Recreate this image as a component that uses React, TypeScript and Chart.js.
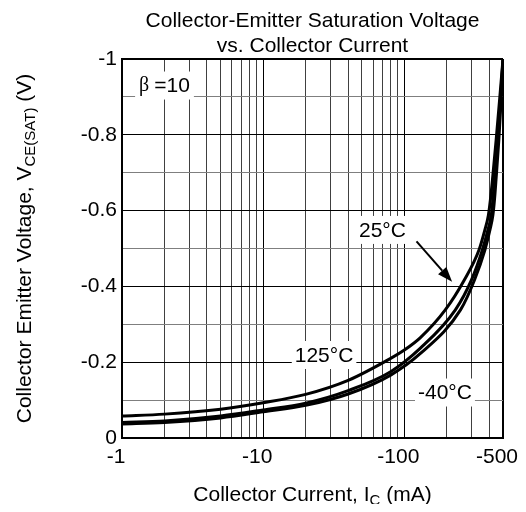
import { useEffect, useRef } from "react";
import { Chart, registerables } from "chart.js";

Chart.register(...registerables);

const FONT = "'Liberation Sans', Arial, Helvetica, sans-serif";
const SERIF = "'Liberation Serif', 'DejaVu Serif', serif";

// ---- text ----
const titleLines = ["Collector-Emitter Saturation Voltage", "vs. Collector Current"];
const xTitleParts = ["Collector Current, I", "C", " (mA)"];
const yTitleParts = ["Collector Emitter Voltage, V", "CE(SAT)", " (V)"];

// ---- axes (collector current magnitudes in mA; shown with a minus sign) ----
const xGridValues = [1, 2, 3, 4, 5, 6, 7, 8, 9, 10, 20, 30, 40, 50, 60, 70, 80, 90, 100, 200, 300, 400, 500];
const xLabelValues = [1, 10, 100, 500];
const xTickLabels = ["-1", "-10", "-100", "-500"];
const yLabelValues = [-1, -0.8, -0.6, -0.4, -0.2, 0];
const yTickLabels = ["-1", "-0.8", "-0.6", "-0.4", "-0.2", "0"];

// ---- series: |Ic| (mA) and VCE(sat) (V) ----
const ic125 = [1, 2, 5, 10, 20, 40, 80, 100, 130, 195, 266, 338, 372, 394, 407, 421, 447, 473, 500];
const vce125 = [-0.058, -0.063, -0.076, -0.093, -0.115, -0.152, -0.21, -0.232, -0.265, -0.338, -0.417, -0.496, -0.549, -0.588, -0.628, -0.681, -0.786, -0.892, -1.0];

const ic25 = [1, 2, 5, 10, 20, 40, 80, 130, 230, 299, 357, 391, 413, 424, 436, 459, 480, 500];
const vce25 = [-0.041, -0.045, -0.058, -0.074, -0.092, -0.125, -0.175, -0.237, -0.338, -0.417, -0.496, -0.549, -0.588, -0.628, -0.681, -0.786, -0.892, -1.0];

const icM40 = [1, 2, 5, 10, 20, 40, 80, 130, 250, 314, 372, 404, 424, 435, 446, 467, 485, 500];
const vceM40 = [-0.037, -0.041, -0.053, -0.069, -0.086, -0.116, -0.166, -0.223, -0.338, -0.417, -0.496, -0.549, -0.588, -0.628, -0.681, -0.786, -0.892, -1.0];

// ---- annotations (data coordinates) ----
const betaSymbol = "\u03B2";
const betaText = "=10";
const betaAt = [2, -0.93];
const curveLabels = ["25\u00B0C", "125\u00B0C", "-40\u00B0C"];
const curveLabelIc = [70, 27, 194];
const curveLabelV = [-0.549, -0.219, -0.12];
const arrowFrom = [122, -0.519];
const arrowTo = [218, -0.412];

const toPoints = (xs: number[], ys: number[]) => xs.map((x, i) => ({ x, y: ys[i] }));

type Run = { text: string; size: number; dy: number };

function drawRuns(ctx: CanvasRenderingContext2D, runs: Run[], cx: number, baseY: number) {
  let total = 0;
  const widths: number[] = [];
  for (const r of runs) {
    ctx.font = `${r.size}px ${FONT}`;
    const w = ctx.measureText(r.text).width;
    widths.push(w);
    total += w;
  }
  let x = cx - total / 2;
  ctx.textAlign = "left";
  ctx.textBaseline = "alphabetic";
  runs.forEach((r, i) => {
    ctx.font = `${r.size}px ${FONT}`;
    ctx.fillText(r.text, x, baseY + r.dy);
    x += widths[i];
  });
}

const annotPlugin = {
  id: "annot",
  beforeDatasetsDraw(chart: any) {
    const { ctx, scales } = chart;
    const xs = scales.x;
    const ys = scales.y;
    ctx.save();
    ctx.font = `21px ${FONT}`;
    curveLabels.forEach((t, i) => {
      const cx = xs.getPixelForValue(curveLabelIc[i]);
      const cy = ys.getPixelForValue(curveLabelV[i]);
      const w = ctx.measureText(t).width + 6;
      const h = 28;
      ctx.fillStyle = "#fff";
      ctx.fillRect(cx - w / 2, cy - h / 2, w, h);
      ctx.fillStyle = "#000";
      ctx.textAlign = "center";
      ctx.textBaseline = "middle";
      ctx.fillText(t, cx, cy + 1);
    });
    const bx = xs.getPixelForValue(betaAt[0]);
    const by = ys.getPixelForValue(betaAt[1]);
    ctx.font = `20px ${SERIF}`;
    const w1 = ctx.measureText(betaSymbol).width;
    ctx.font = `21px ${FONT}`;
    const w2 = ctx.measureText(betaText).width;
    const gap = 5;
    const total = w1 + gap + w2;
    ctx.fillStyle = "#fff";
    ctx.fillRect(bx - total / 2 - 4, by - 14, total + 8, 28);
    ctx.fillStyle = "#000";
    ctx.textAlign = "left";
    ctx.textBaseline = "middle";
    ctx.font = `20px ${SERIF}`;
    ctx.fillText(betaSymbol, bx - total / 2, by);
    ctx.font = `21px ${FONT}`;
    ctx.fillText(betaText, bx - total / 2 + w1 + gap, by + 1);
    ctx.restore();
  },
  afterDatasetsDraw(chart: any) {
    const { ctx, scales } = chart;
    const x0 = scales.x.getPixelForValue(arrowFrom[0]);
    const y0 = scales.y.getPixelForValue(arrowFrom[1]);
    const x1 = scales.x.getPixelForValue(arrowTo[0]);
    const y1 = scales.y.getPixelForValue(arrowTo[1]);
    const ang = Math.atan2(y1 - y0, x1 - x0);
    const head = 15;
    const half = 5.5;
    ctx.save();
    ctx.strokeStyle = "#000";
    ctx.fillStyle = "#000";
    ctx.lineWidth = 2;
    ctx.beginPath();
    ctx.moveTo(x0, y0);
    ctx.lineTo(x1 - Math.cos(ang) * head, y1 - Math.sin(ang) * head);
    ctx.stroke();
    const bxp = x1 - Math.cos(ang) * head;
    const byp = y1 - Math.sin(ang) * head;
    ctx.beginPath();
    ctx.moveTo(x1, y1);
    ctx.lineTo(bxp + Math.sin(ang) * half, byp - Math.cos(ang) * half);
    ctx.lineTo(bxp - Math.sin(ang) * half, byp + Math.cos(ang) * half);
    ctx.closePath();
    ctx.fill();
    ctx.restore();
  },
  afterDraw(chart: any) {
    const { ctx, chartArea } = chart;
    const cx = (chartArea.left + chartArea.right) / 2;
    const cy = (chartArea.top + chartArea.bottom) / 2;
    ctx.save();
    ctx.fillStyle = "#000";
    drawRuns(ctx, [{ text: titleLines[0], size: 21, dy: 0 }], cx, 18.5);
    drawRuns(ctx, [{ text: titleLines[1], size: 21, dy: 0 }], cx, 43.5);
    drawRuns(
      ctx,
      [
        { text: xTitleParts[0], size: 21, dy: 0 },
        { text: xTitleParts[1], size: 15, dy: 4 },
        { text: xTitleParts[2], size: 21, dy: 0 },
      ],
      cx,
      493
    );
    ctx.translate(23, cy);
    ctx.rotate(-Math.PI / 2);
    drawRuns(
      ctx,
      [
        { text: yTitleParts[0], size: 21, dy: 0 },
        { text: yTitleParts[1], size: 15, dy: 4 },
        { text: yTitleParts[2], size: 21, dy: 0 },
      ],
      0,
      0
    );
    ctx.restore();
  },
};

export default function App() {
  const ref = useRef<HTMLCanvasElement | null>(null);
  useEffect(() => {
    if (!ref.current) return;
    Chart.defaults.font.family = FONT;
    Chart.defaults.font.size = 21;
    Chart.defaults.color = "#000";
    const lineStyle = {
      borderColor: "#000",
      borderWidth: 3,
      pointRadius: 0,
      fill: false,
      cubicInterpolationMode: "monotone" as const,
    };
    const chart = new Chart(ref.current, {
      type: "line",
      data: {
        datasets: [
          { label: "125°C", data: toPoints(ic125, vce125), ...lineStyle },
          { label: "25°C", data: toPoints(ic25, vce25), ...lineStyle },
          { label: "-40°C", data: toPoints(icM40, vceM40), ...lineStyle },
        ],
      },
      options: {
        animation: false,
        responsive: false,
        layout: { padding: { top: 51, right: 15, left: 0, bottom: 0 } },
        plugins: {
          legend: { display: false },
          tooltip: { enabled: false },
          title: { display: false },
        },
        scales: {
          x: {
            type: "logarithmic",
            min: 1,
            max: 500,
            afterBuildTicks: (s: any) => {
              s.ticks = xGridValues.map((v) => ({ value: v }));
            },
            afterFit: (s: any) => {
              s.height = 66;
              s.paddingLeft = 0;
              s.paddingRight = 0;
            },
            ticks: {
              autoSkip: false,
              maxRotation: 0,
              minRotation: 0,
              padding: 7,
              labelOffset: -6,
              font: { size: 21 },
              callback: (v: any) => {
                const i = xLabelValues.indexOf(Number(v));
                return i >= 0 ? xTickLabels[i] : "";
              },
            },
            grid: {
              drawTicks: false,
              color: (c: any) => {
                const v = c.tick?.value;
                return v === 1 || v === 10 || v === 100 || v === 500 ? "#000" : "#404040";
              },
              lineWidth: (c: any) => (c.tick?.value === 500 ? 2 : 1),
            },
            border: { color: "#000", width: 2 },
          },
          y: {
            type: "linear",
            min: -1,
            max: 0,
            reverse: true,
            afterFit: (s: any) => {
              s.width = 114;
              s.paddingTop = 0;
              s.paddingBottom = 0;
            },
            ticks: {
              stepSize: 0.1,
              padding: 5,
              font: { size: 21 },
              callback: (v: any) => {
                const t = Math.round(Number(v) * 10);
                const i = yLabelValues.findIndex((u) => Math.round(u * 10) === t);
                return i >= 0 ? yTickLabels[i] : "";
              },
            },
            grid: {
              drawTicks: false,
              color: (c: any) => {
                const t = Math.round((c.tick?.value ?? 0) * 10);
                return Math.abs(t) % 2 === 1 ? "#7f7f7f" : "#000";
              },
              lineWidth: (c: any) => (Math.round((c.tick?.value ?? 0) * 10) === -10 ? 2 : 1),
            },
            border: { color: "#000", width: 2 },
          },
        },
      },
      plugins: [annotPlugin],
    });
    return () => chart.destroy();
  }, []);
  return <canvas ref={ref} width={510} height={496} style={{ display: "block" }} />;
}
